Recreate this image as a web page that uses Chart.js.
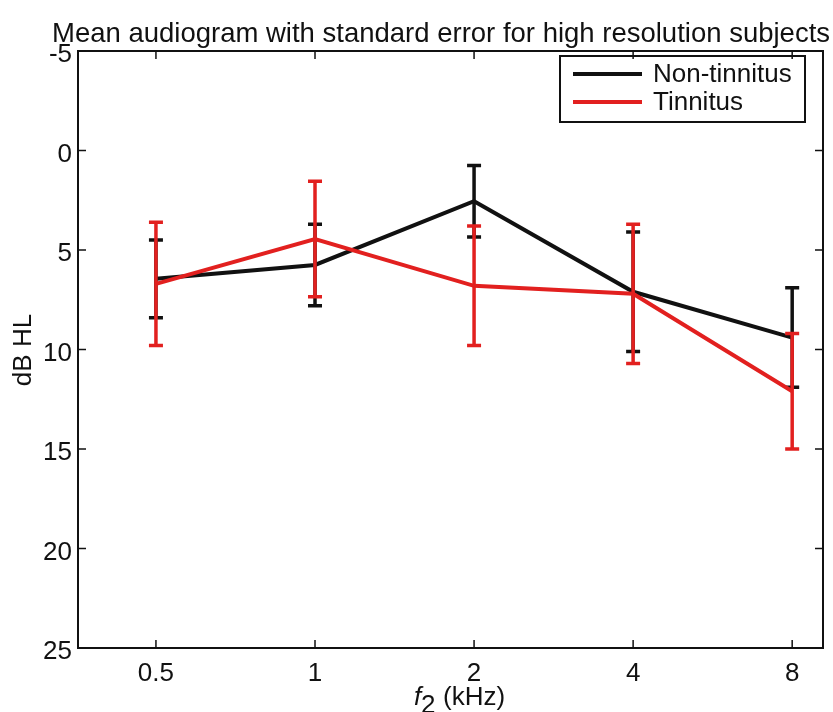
<!DOCTYPE html>
<html>
<head>
<meta charset="utf-8">
<title>Mean audiogram</title>
<script src="https://cdn.jsdelivr.net/npm/chart.js@4"></script>
<style>
  body { margin: 0; background: #fff; }
  #wrap { width: 833px; height: 712px; }
</style>
</head>
<body>
<div id="wrap"><canvas id="audiogram"></canvas></div>
<script>
// f2 frequencies (kHz) and axis tick labels
const freqs = [0.5, 1, 2, 4, 8];
const freqLabels = ['0.5', '1', '2', '4', '8'];
const yTicks = [-5, 0, 5, 10, 15, 20, 25];

// mean thresholds (dB HL) and standard errors
const nonTinnitusMean = [6.45, 5.75, 2.55, 7.1, 9.4];
const nonTinnitusSE = [1.95, 2.05, 1.8, 3.0, 2.5];
const tinnitusMean = [6.7, 4.45, 6.8, 7.2, 12.1];
const tinnitusSE = [3.1, 2.9, 3.0, 3.5, 2.9];

const FONT = '"Liberation Sans", Arial, Helvetica, sans-serif';
const BLACK = '#111111';
const RED = '#e2201f';

function points(means) {
  return freqs.map((f, i) => ({ x: f, y: means[i] }));
}

// error bars, box with inward ticks, legend and axis titles
const audiogramPlugin = {
  id: 'audiogram',
  afterDatasetDraw(chart, args) {
    const ds = chart.data.datasets[args.index];
    const y = chart.scales.y;
    const ctx = chart.ctx;
    ctx.save();
    ctx.strokeStyle = ds.borderColor;
    ctx.lineWidth = 3.5;
    ds.se.forEach((se, i) => {
      const px = args.meta.data[i].x;
      const m = ds.data[i].y;
      const top = y.getPixelForValue(m - se);
      const bot = y.getPixelForValue(m + se);
      ctx.beginPath();
      ctx.moveTo(px, top); ctx.lineTo(px, bot);
      ctx.moveTo(px - 7, top); ctx.lineTo(px + 7, top);
      ctx.moveTo(px - 7, bot); ctx.lineTo(px + 7, bot);
      ctx.stroke();
    });
    ctx.restore();
  },
  afterDraw(chart) {
    const ctx = chart.ctx;
    const a = chart.chartArea;
    const x = chart.scales.x;
    const y = chart.scales.y;
    ctx.save();

    // axes box
    ctx.strokeStyle = BLACK;
    ctx.lineWidth = 2;
    ctx.strokeRect(a.left, a.top, a.right - a.left, a.bottom - a.top);

    // inward tick marks on all four sides
    ctx.lineWidth = 1.5;
    ctx.beginPath();
    freqs.forEach(f => {
      const px = x.getPixelForValue(f);
      ctx.moveTo(px, a.bottom); ctx.lineTo(px, a.bottom - 8);
      ctx.moveTo(px, a.top); ctx.lineTo(px, a.top + 8);
    });
    yTicks.forEach(v => {
      const py = y.getPixelForValue(v);
      ctx.moveTo(a.left, py); ctx.lineTo(a.left + 8, py);
      ctx.moveTo(a.right, py); ctx.lineTo(a.right - 8, py);
    });
    ctx.stroke();

    // legend
    ctx.lineWidth = 2;
    ctx.strokeRect(560, 56, 245, 66);
    ctx.font = '26px ' + FONT;
    ctx.fillStyle = BLACK;
    ctx.textBaseline = 'middle';
    ctx.textAlign = 'left';
    chart.data.datasets.forEach((ds, i) => {
      const ly = 74 + i * 28;
      ctx.strokeStyle = ds.borderColor;
      ctx.lineWidth = 4;
      ctx.beginPath();
      ctx.moveTo(573, ly); ctx.lineTo(642, ly);
      ctx.stroke();
      ctx.fillText(ds.label, 653, ly + 1);
    });

    // title
    ctx.font = '27.5px ' + FONT;
    ctx.textBaseline = 'alphabetic';
    ctx.textAlign = 'center';
    ctx.fillText('Mean audiogram with standard error for high resolution subjects', 441, 42);

    // x axis title: italic f with subscript 2
    ctx.textAlign = 'left';
    ctx.font = 'italic 26px ' + FONT;
    ctx.fillText('f', 414, 705);
    ctx.font = '26px ' + FONT;
    ctx.fillText('2', 421, 713);
    ctx.fillText('(kHz)', 443, 705);

    // y axis title
    ctx.translate(24, 350);
    ctx.rotate(-Math.PI / 2);
    ctx.textAlign = 'center';
    ctx.textBaseline = 'middle';
    ctx.fillText('dB HL', 0, 0);
    ctx.restore();
  }
};

new Chart(document.getElementById('audiogram'), {
  type: 'line',
  data: {
    datasets: [
      {
        label: 'Non-tinnitus',
        data: points(nonTinnitusMean),
        se: nonTinnitusSE,
        borderColor: BLACK,
        borderWidth: 4,
        pointRadius: 0,
        order: 2
      },
      {
        label: 'Tinnitus',
        data: points(tinnitusMean),
        se: tinnitusSE,
        borderColor: RED,
        borderWidth: 4,
        pointRadius: 0,
        order: 1
      }
    ]
  },
  options: {
    responsive: true,
    maintainAspectRatio: false,
    animation: false,
    layout: { padding: { top: 51, right: 10, left: 0, bottom: 0 } },
    plugins: {
      legend: { display: false },
      tooltip: { enabled: false },
      title: { display: false }
    },
    scales: {
      x: {
        type: 'logarithmic',
        min: 0.356,
        max: 9.15,
        afterBuildTicks: s => { s.ticks = freqs.map(v => ({ value: v })); },
        afterFit: s => { s.height = 64; },
        grid: { display: false, drawTicks: false },
        border: { display: false },
        ticks: {
          autoSkip: false,
          maxRotation: 0,
          padding: 10,
          color: BLACK,
          font: { family: FONT, size: 26 },
          callback: v => freqLabels[freqs.indexOf(v)]
        }
      },
      y: {
        reverse: true,
        min: -5,
        max: 25,
        afterBuildTicks: s => { s.ticks = yTicks.map(v => ({ value: v })); },
        afterFit: s => { s.width = 78; },
        grid: { display: false, drawTicks: false },
        border: { display: false },
        ticks: {
          padding: 6,
          labelOffset: 4,
          color: BLACK,
          font: { family: FONT, size: 26 }
        }
      }
    }
  },
  plugins: [audiogramPlugin]
});
</script>
</body>
</html>
